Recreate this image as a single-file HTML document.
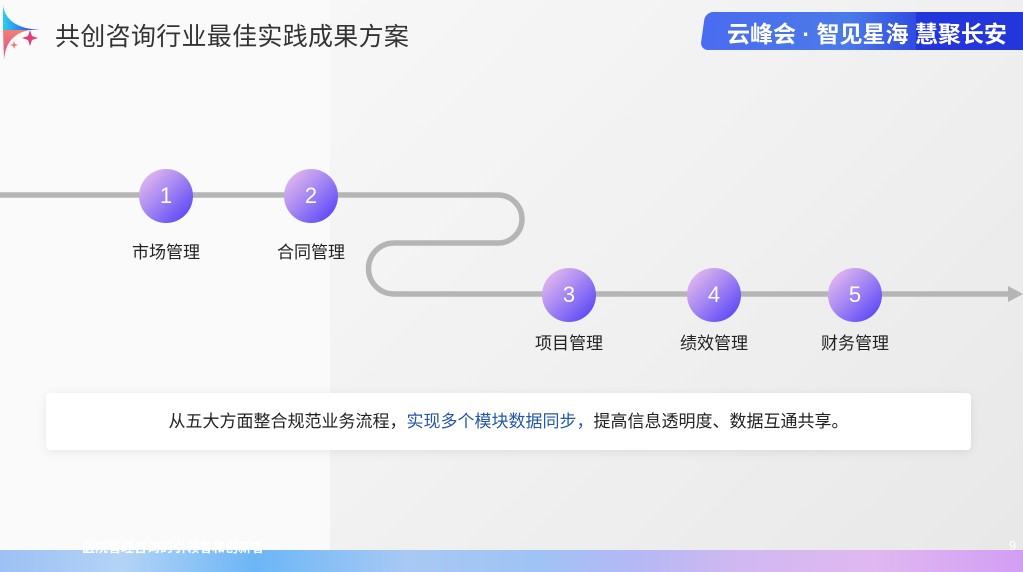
<!DOCTYPE html>
<html><head><meta charset="utf-8"><style>
*{margin:0;padding:0;box-sizing:border-box}
body{width:1023px;height:572px;overflow:hidden;position:relative;font-family:"Liberation Sans","Noto Sans CJK SC",sans-serif;background:#fafafa}
.bgr{position:absolute;left:330px;top:0;width:693px;height:550px;background:linear-gradient(135deg,#f7f7f7 0%,#f1f1f1 45%,#e8e8e8 100%)}
.title{position:absolute;left:55px;top:17px;font-size:25px;color:#333;letter-spacing:0.3px}
.banner{position:absolute;left:700px;top:12px;width:323px;height:38px;border-radius:8px 0 0 8px;background:linear-gradient(90deg,#4a6cf0 0%,#4b7ae8 45%,#2b43e0 70%,#1f35e0 100%);transform:skewX(-8deg);transform-origin:bottom left}
.banner2{position:absolute;left:916px;top:12px;width:107px;height:38px;background:#2336dc}
.btxt{position:absolute;left:727px;top:15px;font-size:23px;font-weight:bold;color:#fff;white-space:nowrap;letter-spacing:0px}
.c{position:absolute;width:54px;height:54px;border-radius:50%;background:linear-gradient(135deg,#f3c4ec 0%,#a98af2 45%,#4a38f8 100%);color:#fff;font-size:22px;text-align:center;line-height:54px}
.l{position:absolute;font-size:17px;color:#222;width:100px;text-align:center}
.box{position:absolute;left:46px;top:393px;width:925px;height:57px;background:#fff;border-radius:4px;box-shadow:0 2px 10px rgba(0,0,0,0.08);text-align:center;line-height:57px;font-size:17px;color:#222}
.box span{color:#2457a8}
.strip{position:absolute;left:0;top:550px;width:1023px;height:22px;background:linear-gradient(90deg,#9dc0f4 0%,#b4d3f6 12%,#6bb6f6 25%,#a9c9f4 40%,#9fc3f4 52%,#b4b8f4 62%,#d0b8f2 72%,#e0b8f0 85%,#d29ef4 100%)}
.foot{position:absolute;left:82px;top:537px;font-size:13px;color:#fff;font-weight:bold}
.pg{position:absolute;left:1009px;top:538px;font-size:13px;color:#fff}
</style></head><body>
<div class="bgr"></div>
<svg style="position:absolute;left:0;top:0" width="60" height="62">
<defs><linearGradient id="g1" x1="0" y1="0" x2="1" y2="0"><stop offset="0" stop-color="#2ad0f0"/><stop offset="1" stop-color="#2a2ef0"/></linearGradient>
<linearGradient id="g2" x1="0" y1="0" x2="0" y2="1"><stop offset="0" stop-color="#f08070"/><stop offset="1" stop-color="#e04a9a"/></linearGradient></defs>
<path d="M3 5 Q6 28 40 30 L3 30Z" fill="url(#g1)"/>
<path d="M3 30 L30 30 Q6 34 4 60Z" fill="url(#g2)"/>
<path d="M30 30 l2 6 6 2 -6 2 -2 6 -2 -6 -6 -2 6 -2z" fill="#e0407a"/>
<path d="M14 41 l1 3 3 1 -3 1 -1 3 -1 -3 -3 -1 3 -1z" fill="#f07a70"/>
</svg>
<div class="title">共创咨询行业最佳实践成果方案</div>
<div class="banner"></div><div class="banner2"></div>
<div class="btxt">云峰会 · 智见星海 慧聚长安</div>
<svg style="position:absolute;left:0;top:0" width="1023" height="572">
<path d="M0 195 H498 A24 24 0 0 1 498 243 H394 A25.5 25.5 0 0 0 394 294 H1010" fill="none" stroke="#b5b5b5" stroke-width="5.5"/>
<path d="M1008 286 L1023 294 L1008 302Z" fill="#b5b5b5"/>
</svg>
<div class="c" style="left:139px;top:169px">1</div>
<div class="c" style="left:284px;top:169px">2</div>
<div class="c" style="left:542px;top:268px">3</div>
<div class="c" style="left:687px;top:268px">4</div>
<div class="c" style="left:828px;top:268px">5</div>
<div class="l" style="left:116px;top:238px">市场管理</div>
<div class="l" style="left:261px;top:238px">合同管理</div>
<div class="l" style="left:519px;top:329px">项目管理</div>
<div class="l" style="left:664px;top:329px">绩效管理</div>
<div class="l" style="left:805px;top:329px">财务管理</div>
<div class="box">从五大方面整合规范业务流程，<span>实现多个模块数据同步，</span>提高信息透明度、数据互通共享。</div>
<div class="strip"></div>
<div class="foot">医院管理咨询的引领者和创新者</div>
<div class="pg">9</div>
</body></html>
